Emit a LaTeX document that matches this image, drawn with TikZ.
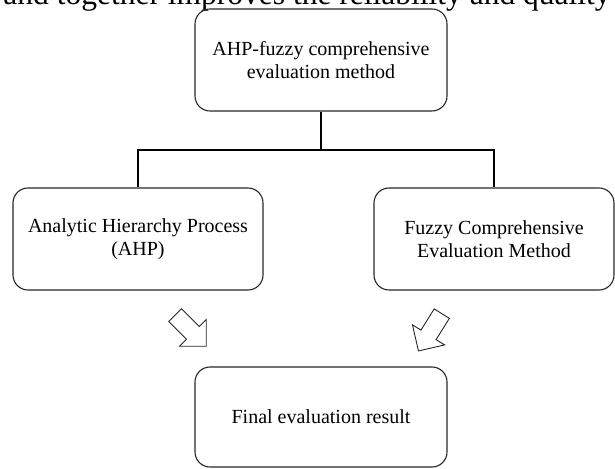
\documentclass[tikz,border=0pt]{standalone}
\usepackage{fontspec}
\setmainfont{Liberation Serif}
\usepackage{tikz}
\usetikzlibrary{shapes.arrows,positioning,calc}
\tikzstyle{stage}=[draw=black!85,line width=1.1pt,rounded corners=15pt,align=center,inner sep=0pt,font=\fontsize{20}{23}\selectfont]
\tikzstyle{blockarrow}=[draw=black!85,line width=0.9pt,single arrow,single arrow head extend=10pt,minimum height=44pt,inner xsep=0pt,inner ysep=8.5pt]

\begin{document}
\begin{tikzpicture}[x=1pt,y=1pt]
\useasboundingbox (0,0) rectangle (615,468);
% cut line of running text above the figure
\node [anchor=base,inner sep=0pt,font=\fontsize{31.5}{34}\selectfont] (intro) at (307,463) {and together improves the reliability and quality};
\node [stage,minimum width=252pt,minimum height=102pt] (top) at (321,408) {AHP-fuzzy comprehensive\\evaluation method};
\node [stage,minimum width=250pt,minimum height=102pt] (ahp) at (138,229) {Analytic Hierarchy Process\\(AHP)};
\node [stage,minimum width=240pt,minimum height=102pt] (fce) at (494,229) {Fuzzy Comprehensive\\Evaluation Method};
\node [stage,minimum width=252pt,minimum height=100pt] (result) at (321,51) {Final evaluation result};
\coordinate (fork) at (321,318);
\draw [line width=1.3pt] (top.south) -- (fork);
\draw [line width=1.3pt] (ahp.north) |- (fork) -| (fce.north);
\node [blockarrow,rotate=-45] (arrL) at (187.5,140.5) {};
\node [blockarrow,rotate=-122] (arrR) at (432.5,139.5) {};
\end{tikzpicture}
\end{document}
